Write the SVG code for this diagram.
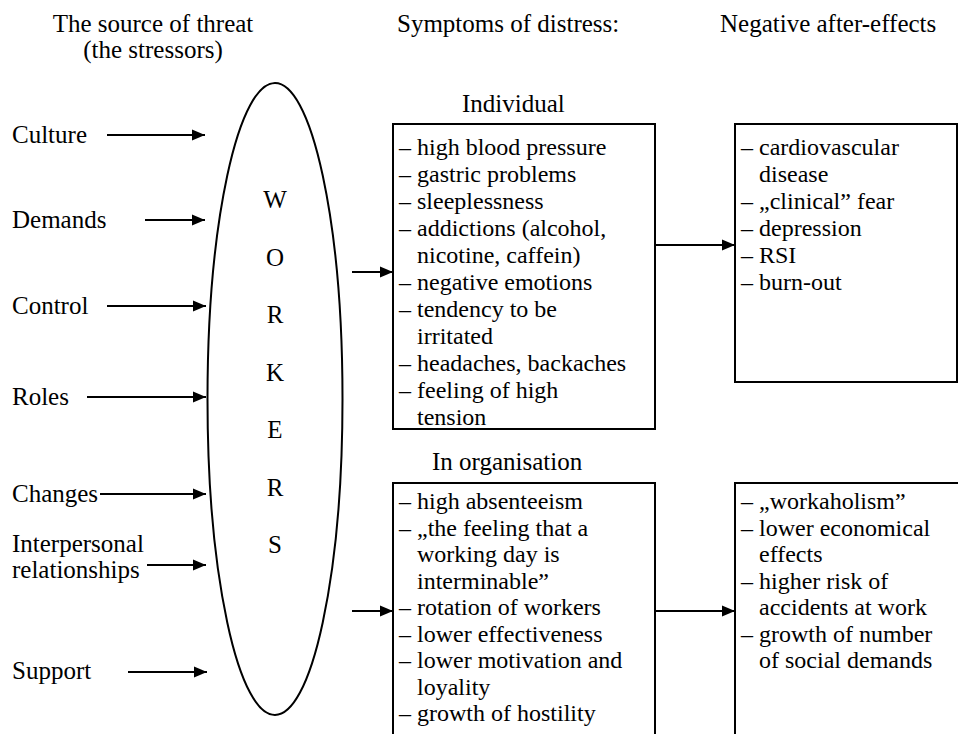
<svg xmlns="http://www.w3.org/2000/svg" width="958" height="734" viewBox="0 0 958 734">
<style>
  text { font-family: "Liberation Serif", Tinos, "Times New Roman", Times, "Nimbus Roman", "Nimbus Roman No9 L", FreeSerif, "Noto Serif", "DejaVu Serif", serif; fill: #000; }
  .t { font-size: 25px; }
  .b { font-size: 24px; }
  .box { fill: none; stroke: #000; stroke-width: 2; }
  .conn line { stroke: #000; stroke-width: 2.2; }
</style>
<defs>
  <marker id="ah" markerUnits="userSpaceOnUse" markerWidth="14" markerHeight="12" refX="13" refY="6" orient="auto">
    <path d="M0,0.5 L13,6 L0,11.5 z" fill="#000"/>
  </marker>
</defs>
<rect width="958" height="734" fill="#fff"/>

<g id="headings">
  <text class="t" x="153" y="32" text-anchor="middle">The source of threat</text>
  <text class="t" x="153" y="58" text-anchor="middle">(the stressors)</text>
  <text class="t" x="397" y="32">Symptoms of distress:</text>
  <text class="t" x="720" y="32">Negative after-effects</text>
</g>

<g id="stressors">
  <text class="t" x="12" y="143">Culture</text>
  <text class="t" x="12" y="228">Demands</text>
  <text class="t" x="12" y="314">Control</text>
  <text class="t" x="12" y="405">Roles</text>
  <text class="t" x="12" y="502">Changes</text>
  <text class="t" x="12" y="552">Interpersonal</text>
  <text class="t" x="12" y="578">relationships</text>
  <text class="t" x="12" y="679">Support</text>
</g>

<g id="workers">
  <ellipse cx="275" cy="399" rx="67.5" ry="316" fill="none" stroke="#000" stroke-width="2"/>
  <text class="t" x="275" y="208" text-anchor="middle">W</text>
  <text class="t" x="275" y="265.5" text-anchor="middle">O</text>
  <text class="t" x="275" y="323" text-anchor="middle">R</text>
  <text class="t" x="275" y="380.5" text-anchor="middle">K</text>
  <text class="t" x="275" y="438" text-anchor="middle">E</text>
  <text class="t" x="275" y="495.5" text-anchor="middle">R</text>
  <text class="t" x="275" y="553" text-anchor="middle">S</text>
</g>

<g id="individual">
  <text class="t" x="462" y="112">Individual</text>
  <rect class="box" x="393" y="124" width="262" height="305"/>
  <text class="b" x="399" y="155">– high blood pressure</text>
  <text class="b" x="399" y="182">– gastric problems</text>
  <text class="b" x="399" y="209">– sleeplessness</text>
  <text class="b" x="399" y="236">– addictions (alcohol,</text>
  <text class="b" x="417" y="263">nicotine, caffein)</text>
  <text class="b" x="399" y="290">– negative emotions</text>
  <text class="b" x="399" y="317">– tendency to be</text>
  <text class="b" x="417" y="344">irritated</text>
  <text class="b" x="399" y="371">– headaches, backaches</text>
  <text class="b" x="399" y="398">– feeling of high</text>
  <text class="b" x="417" y="425">tension</text>
</g>

<g id="individual-effects">
  <rect class="box" x="735" y="124" width="222" height="258"/>
  <text class="b" x="741" y="155">– cardiovascular</text>
  <text class="b" x="759" y="182">disease</text>
  <text class="b" x="741" y="209">– „clinical” fear</text>
  <text class="b" x="741" y="236">– depression</text>
  <text class="b" x="741" y="263">– RSI</text>
  <text class="b" x="741" y="290">– burn-out</text>
</g>

<g id="organisation">
  <text class="t" x="432" y="470">In organisation</text>
  <rect class="box" x="393" y="483" width="262" height="270"/>
  <text class="b" x="399" y="509">– high absenteeism</text>
  <text class="b" x="399" y="535.5">– „the feeling that a</text>
  <text class="b" x="417" y="562">working day is</text>
  <text class="b" x="417" y="588.5">interminable”</text>
  <text class="b" x="399" y="615">– rotation of workers</text>
  <text class="b" x="399" y="641.5">– lower effectiveness</text>
  <text class="b" x="399" y="668">– lower motivation and</text>
  <text class="b" x="417" y="694.5">loyality</text>
  <text class="b" x="399" y="721">– growth of hostility</text>
</g>

<g id="organisation-effects">
  <rect class="box" x="735" y="483" width="230" height="270"/>
  <text class="b" x="741" y="509">– „workaholism”</text>
  <text class="b" x="741" y="535.5">– lower economical</text>
  <text class="b" x="759" y="562">effects</text>
  <text class="b" x="741" y="588.5">– higher risk of</text>
  <text class="b" x="759" y="615">accidents at work</text>
  <text class="b" x="741" y="641.5">– growth of number</text>
  <text class="b" x="759" y="668">of social demands</text>
</g>

<g id="connectors" class="conn">
  <line x1="107" y1="135" x2="205" y2="135" marker-end="url(#ah)"/>
  <line x1="145" y1="220" x2="205" y2="220" marker-end="url(#ah)"/>
  <line x1="107" y1="306" x2="206" y2="306" marker-end="url(#ah)"/>
  <line x1="87" y1="397" x2="206" y2="397" marker-end="url(#ah)"/>
  <line x1="100" y1="494" x2="206" y2="494" marker-end="url(#ah)"/>
  <line x1="147" y1="565" x2="206" y2="565" marker-end="url(#ah)"/>
  <line x1="128" y1="672" x2="207" y2="672" marker-end="url(#ah)"/>
  <line x1="352" y1="272" x2="393" y2="272" marker-end="url(#ah)"/>
  <line x1="655" y1="245" x2="735" y2="245" marker-end="url(#ah)"/>
  <line x1="352" y1="611" x2="393" y2="611" marker-end="url(#ah)"/>
  <line x1="655" y1="611" x2="735" y2="611" marker-end="url(#ah)"/>
</g>
</svg>
